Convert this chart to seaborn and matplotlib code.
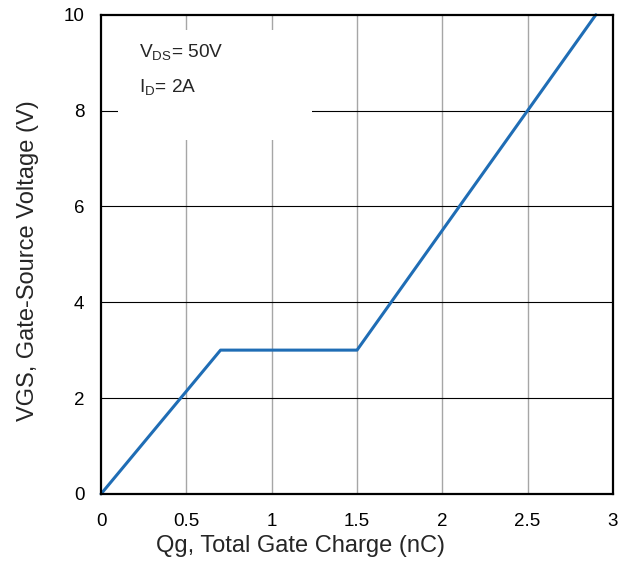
import matplotlib
matplotlib.use("Agg")
import matplotlib.pyplot as plt
import seaborn as sns
import pandas as pd
from matplotlib.patches import Rectangle

# gate charge curve
qg = [0.0, 0.7, 1.5, 2.9]
vgs = [0.0, 3.0, 3.0, 10.0]
x_ticks = [0, 0.5, 1, 1.5, 2, 2.5, 3]
x_tick_labels = ["0", "0.5", "1", "1.5", "2", "2.5", "3"]
y_ticks = [0, 2, 4, 6, 8, 10]

df = pd.DataFrame({"qg": qg, "vgs": vgs})

sns.set_theme(style="white")
plt.rcParams["font.family"] = ["Liberation Sans", "DejaVu Sans"]

fig = plt.figure(figsize=(6.28, 5.67), dpi=100)
ax = fig.add_axes([0.161, 0.129, 0.815, 0.845])

# grid: grey verticals, black horizontals
for x in x_ticks[1:-1]:
    ax.axvline(x, color="#a6a6a6", linewidth=1.0, zorder=1)
for y in y_ticks[1:-1]:
    ax.axhline(y, color="black", linewidth=0.8, zorder=1)

# white box behind the annotation
ax.add_patch(Rectangle((0.1, 7.39), 1.136, 2.3, facecolor="white",
                       edgecolor="none", zorder=2))

sns.lineplot(data=df, x="qg", y="vgs", ax=ax, color="#1f6db5",
             linewidth=2.2, zorder=3, clip_on=False)

ax.text(0.22, 9.10, r"V$_{\mathregular{DS}}$= 50V", fontsize=13.8, va="baseline", zorder=4)
ax.text(0.22, 8.37, r"I$_{\mathregular{D}}$= 2A", fontsize=13.8, va="baseline", zorder=4)

ax.set_xlim(0, 3)
ax.set_ylim(0, 10)
ax.set_xticks(x_ticks)
ax.set_xticklabels(x_tick_labels)
ax.set_yticks(y_ticks)
ax.tick_params(axis="both", length=0, labelsize=13.5, colors="black")
ax.tick_params(axis="x", pad=14)
ax.tick_params(axis="y", pad=12)

for s in ax.spines.values():
    s.set_color("black")
    s.set_linewidth(1.6)
    s.set_zorder(5)

ax.set_xlabel("Qg, Total Gate Charge (nC)", fontsize=17)
ax.set_ylabel("VGS, Gate-Source Voltage (V)", fontsize=17)
ax.xaxis.set_label_coords(0.389, -0.086)
ax.yaxis.set_label_coords(-0.121, 0.486)

fig.savefig("out.png", dpi=100)
